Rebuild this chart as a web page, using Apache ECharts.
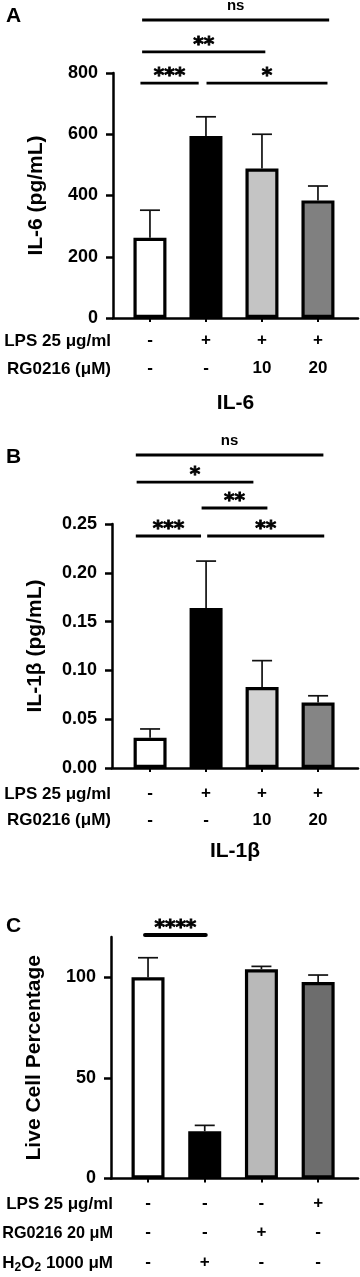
<!DOCTYPE html>
<html><head><meta charset="utf-8">
<script src="https://cdn.jsdelivr.net/npm/echarts@6/dist/echarts.min.js"></script>
<style>html,body{margin:0;padding:0;background:#fff}#c{width:360px;height:1277px}</style>
</head><body><div id="c"></div>
<script>
// ---------- data ----------
const groupsAB = ['Control', 'LPS', 'LPS + RG0216 10 μM', 'LPS + RG0216 20 μM'];
const rowAB_LPS = ['-', '+', '+', '+'];
const rowAB_RG = ['-', '-', '10', '20'];
const rowHeadAB = ['LPS 25 μg/ml', 'RG0216 (μM)'];

const il6Mean = [262, 594, 488, 384];
const il6Sd = [90, 63, 112, 47];
const il6Ticks = [0, 200, 400, 600, 800];
// [label, fromGroup, toGroup, height]
const il6Sig = [['***', 0.83, 1.87, 767], ['*', 2.01, 4.17, 767], ['**', 0.86, 3.06, 869], ['ns', 0.86, 4.2, 973]];

const il1bMean = [0.031, 0.164, 0.083, 0.067];
const il1bSd = [0.009, 0.048, 0.027, 0.007];
const il1bTicks = [0, 0.05, 0.10, 0.15, 0.20, 0.25];
const il1bSig = [['***', 0.745, 1.91, 0.2377], ['**', 2.02, 4.11, 0.2377], ['**', 1.92, 3.095, 0.2664], ['*', 0.76, 2.845, 0.293], ['ns', 0.745, 4.095, 0.3207]];

const groupsC = ['Control', 'H2O2', 'RG0216 20 μM', 'LPS'];
const rowC_LPS = ['-', '-', '-', '+'];
const rowC_RG = ['-', '-', '+', '-'];
const rowC_H2O2 = ['-', '+', '-', '-'];
const rowHeadC = ['LPS 25 μg/ml', 'RG0216 20 μM'];
const liveMean = [100, 23.5, 104, 97.6];
const liveSd = [9.7, 2.9, 1.4, 3.5];
const liveTicks = [0, 50, 100];
const liveSig = [['****', 0.947, 2.018, 121]];

// ---------- styles ----------
const FF = '"Liberation Sans", Arial, Helvetica, sans-serif';
const colorsA = ['#ffffff', '#000000', '#c4c4c4', '#808080'];
const colorsB = ['#ffffff', '#000000', '#d2d2d2', '#858585'];
const colorsC = ['#ffffff', '#000000', '#b9b9b9', '#6d6d6d'];

const panels = [
  {grid: {left: 113, top: 73, width: 245, height: 245}, xmin: 0.34, xmax: 4.715, ymax: 800, ticks: il6Ticks,
   mean: il6Mean, sd: il6Sd, sig: il6Sig, colors: colorsA, rows: [rowAB_LPS, rowAB_RG], lh: 28, margin: 8,
   yname: 'IL-6 (pg/mL)', xname: 'IL-6', xnameGap: 75, fmt: v => String(v), lw: 2.8, cap: 'butt'},
  {grid: {left: 112, top: 524, width: 246, height: 244}, xmin: 0.32, xmax: 4.713, ymax: 0.25, ticks: il1bTicks,
   mean: il1bMean, sd: il1bSd, sig: il1bSig, colors: colorsB, rows: [rowAB_LPS, rowAB_RG], lh: 27, margin: 12,
   yname: 'IL-1β (pg/mL)', xname: 'IL-1β', xnameGap: 73, fmt: v => v.toFixed(2), lw: 2.8, cap: 'butt'},
  {grid: {left: 111, top: 937, width: 247, height: 242}, xmin: 0.347, xmax: 4.703, ymax: 120, ticks: liveTicks,
   mean: liveMean, sd: liveSd, sig: liveSig, colors: colorsC, rows: [rowC_LPS, rowC_RG, rowC_H2O2], lh: 29.5, margin: 10,
   yname: 'Live Cell Percentage', xname: '', xnameGap: 0, fmt: v => String(v), lw: 4, cap: 'round'}
];

const grids = [], xAxes = [], yAxes = [], series = [];
const pos = [1, 2, 3, 4];
panels.forEach((p, gi) => {
  grids.push(p.grid);
  xAxes.push({
    type: 'value', gridIndex: gi, min: p.xmin, max: p.xmax,
    axisLine: {show: true, onZero: false, lineStyle: {color: '#000', width: 2.5}},
    axisTick: {show: true, customValues: pos, length: 4, lineStyle: {color: '#000', width: 2}},
    axisLabel: {customValues: pos, formatter: v => p.rows.map(r => r[Math.round(v) - 1]).join('\n'),
      fontSize: 17, fontWeight: 'bold', fontFamily: FF, color: '#000', lineHeight: p.lh, margin: p.margin},
    splitLine: {show: false},
    name: p.xname, nameLocation: 'middle', nameGap: p.xnameGap,
    nameTextStyle: {fontSize: 21, fontWeight: 'bold', fontFamily: FF, color: '#000'}
  });
  yAxes.push({
    type: 'value', gridIndex: gi, min: 0, max: p.ymax,
    axisLine: {show: true, onZero: false, lineStyle: {color: '#000', width: 2.5}},
    axisTick: {show: true, customValues: p.ticks, length: 7, lineStyle: {color: '#000', width: 2.5}},
    axisLabel: {customValues: p.ticks, formatter: p.fmt, fontSize: 18, fontWeight: 'bold', fontFamily: FF, color: '#000', margin: 15},
    splitLine: {show: false},
    name: p.yname, nameLocation: 'middle', nameGap: 66,
    nameTextStyle: {fontSize: 21, fontWeight: 'bold', fontFamily: FF, color: '#000'}
  });
  series.push({
    type: 'custom', xAxisIndex: gi, yAxisIndex: gi, clip: false, silent: true, z: 1,
    data: p.mean.map((m, i) => [pos[i], m, p.sd[i]]), encode: {x: 0, y: 1},
    renderItem(params, api) {
      const x = api.value(0), m = api.value(1), s = api.value(2);
      const a = api.coord([x, m]), b = api.coord([x, m + s]);
      return {type: 'group', children: [
        {type: 'line', shape: {x1: a[0], y1: a[1], x2: b[0], y2: b[1]}, style: {stroke: '#111', lineWidth: 1.7}},
        {type: 'line', shape: {x1: b[0] - 10, y1: b[1], x2: b[0] + 10, y2: b[1]}, style: {stroke: '#111', lineWidth: 1.7}}
      ]};
    }
  });
  series.push({
    type: 'bar', xAxisIndex: gi, yAxisIndex: gi, barWidth: 33, z: 2, silent: true,
    data: p.mean.map((m, i) => ({value: [pos[i], m], itemStyle: {color: p.colors[i]}})),
    itemStyle: {borderColor: '#000', borderWidth: 3.2}
  });
  series.push({
    type: 'custom', xAxisIndex: gi, yAxisIndex: gi, clip: false, silent: true, z: 5,
    data: p.sig.map(s => [s[1], s[2], s[3]]), encode: {x: 0, y: 2},
    renderItem(params, api) {
      const lab = p.sig[params.dataIndex][0];
      const a = api.coord([api.value(0), api.value(2)]);
      const b = api.coord([api.value(1), api.value(2)]);
      const ns = lab === 'ns';
      return {type: 'group', children: [
        {type: 'line', shape: {x1: a[0], y1: a[1], x2: b[0], y2: b[1]}, style: {stroke: '#000', lineWidth: p.lw, lineCap: p.cap}},
        {type: 'text', style: {text: lab, x: (a[0] + b[0]) / 2, y: a[1] - (ns ? 14 : 7), align: 'center', verticalAlign: 'middle',
          font: ns ? 'bold 15px ' + FF : 'bold 20px "DejaVu Sans"', fill: '#000',
          stroke: ns ? null : '#000', lineWidth: ns ? 0 : 0.9}}
      ]};
    }
  });
});

function headText(t, x, y, fs) {
  return {type: 'text', silent: true, style: {text: t, x: x, y: y, align: 'right', verticalAlign: 'middle',
    font: 'bold ' + (fs || 17) + 'px ' + FF, fill: '#000'}};
}
const graphic = [
  {type: 'text', style: {text: 'A', x: 6, y: 16, verticalAlign: 'middle', font: 'bold 21px ' + FF, fill: '#000'}},
  {type: 'text', style: {text: 'B', x: 6, y: 457, verticalAlign: 'middle', font: 'bold 21px ' + FF, fill: '#000'}},
  {type: 'text', style: {text: 'C', x: 6, y: 926, verticalAlign: 'middle', font: 'bold 21px ' + FF, fill: '#000'}},
  headText(rowHeadAB[0], 111, 341), headText(rowHeadAB[1], 111, 369),
  headText(rowHeadAB[0], 111, 794), headText(rowHeadAB[1], 111, 820),
  headText(rowHeadC[0], 113, 1204), headText(rowHeadC[1], 113, 1234, 16.2),
  {type: 'text', silent: true, style: {text: 'H{s|2}O{s|2} 1000 μM', x: 113, y: 1263, align: 'right', verticalAlign: 'middle',
    font: 'bold 17px ' + FF, fill: '#000',
    rich: {s: {fontSize: 12, fontWeight: 'bold', fontFamily: FF, padding: [9, 0, 0, 0]}}}}
];

const chart = echarts.init(document.getElementById('c'), null, {renderer: 'canvas'});
chart.setOption({animation: false, backgroundColor: '#fff', grid: grids, xAxis: xAxes, yAxis: yAxes, series: series, graphic: graphic});
</script></body></html>
